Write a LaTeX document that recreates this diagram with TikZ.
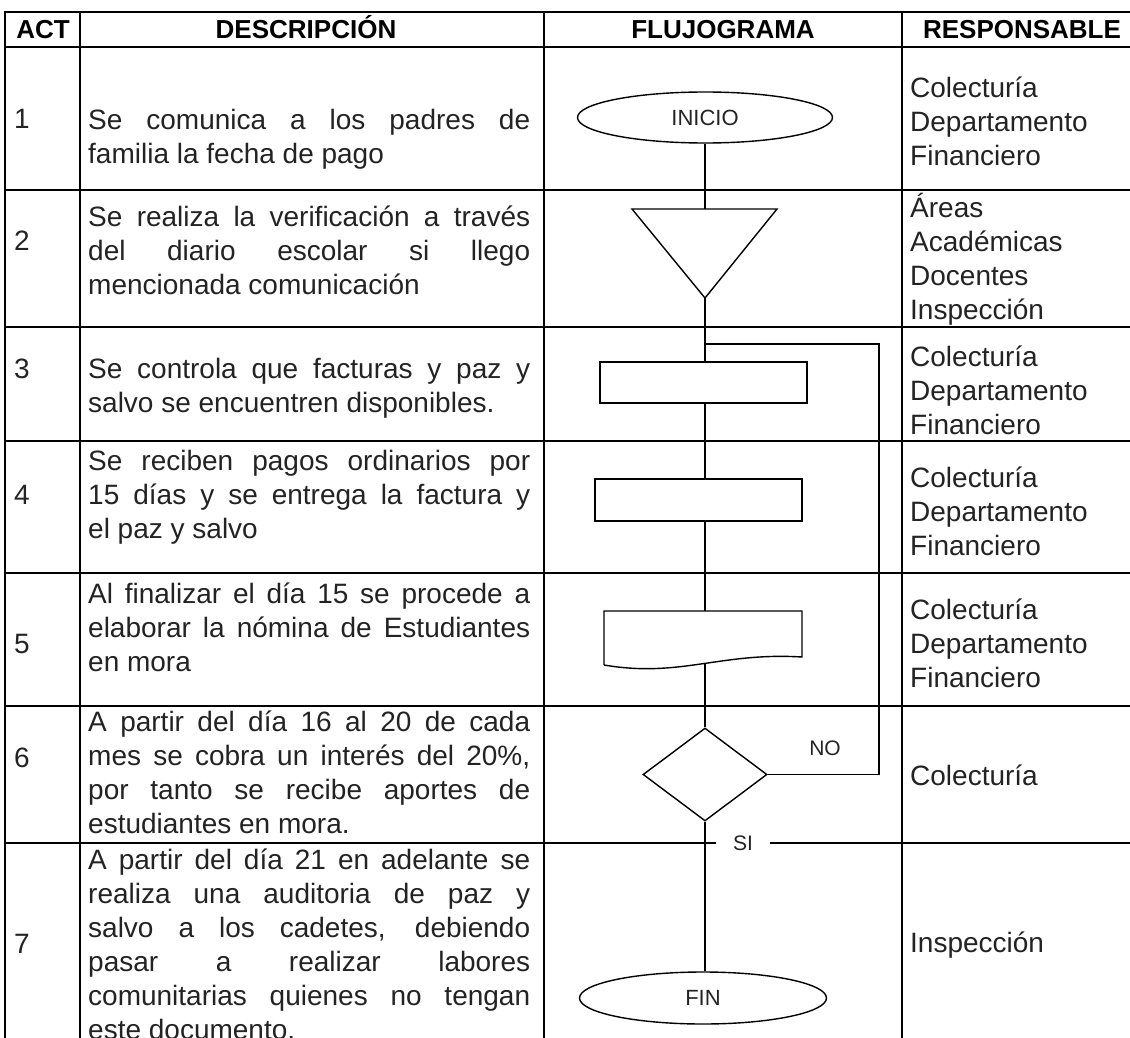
\documentclass[tikz,border=0pt]{standalone}
\usepackage{fontspec}
\setmainfont{Liberation Sans}
\usetikzlibrary{shapes.geometric}
\tolerance=10000 \hbadness=10000 \hyphenpenalty=10000 \exhyphenpenalty=10000
\definecolor{txt}{RGB}{35,35,35}
\newcommand\mystrut{\rule{0pt}{30pt}}
\tikzset{
  tableline/.style={line width=2pt, black, line cap=rect},
  flow/.style={line width=1.4pt, black},
  shapeline/.style={line width=1.4pt, black, line join=miter},
  head/.style={font=\fontsize{26}{30}\selectfont\bfseries, anchor=base, inner sep=0},
  num/.style={font=\fontsize{28}{34}\selectfont, text=txt, anchor=base west, inner sep=0},
  desc/.style={font=\fontsize{28}{34}\selectfont, text=txt, anchor=north west, inner sep=0, text width=442pt, align=justify},
  resp/.style={font=\fontsize{28}{34}\selectfont, text=txt, anchor=north west, inner sep=0, text width=215pt, align=left},
  term/.style={ellipse, draw, line width=1.4pt, minimum width=255pt, minimum height=51pt, inner sep=0, font=\fontsize{22}{26}\selectfont, text=txt},
  proc/.style={rectangle, draw, line width=1.4pt, minimum width=207pt, minimum height=42pt, inner sep=0},
  lbl/.style={font=\fontsize{21}{25}\selectfont, text=txt, inner sep=0},
}
\begin{document}
\begin{tikzpicture}[x=1pt, y=-1pt]
\useasboundingbox (0,0) rectangle (1130,1038);
\fill[white] (0,0) rectangle (1130,1038);
\clip (0,0) rectangle (1130,1038);

% ---------- labels that break lines ----------
\node[lbl, fill=white, minimum width=56pt, minimum height=22pt] (si) at (743,843) {SI};

% ---------- table grid ----------
\foreach \yy in {12,47,190,327,441,573,706}
  \draw[tableline] (5,\yy) -- (1135,\yy);
\draw[tableline] (5,843) -- (si.west);
\draw[tableline] (si.east) -- (1135,843);
\foreach \xx in {5,80,544,902}
  \draw[tableline] (\xx,12) -- (\xx,1045);

% ---------- header ----------
\node[head] (hact)  at (43,39) {ACT};
\node[head] (hdesc) at (306,39) {DESCRIPCIÓN};
\node[head] (hflu)  at (723,39) {FLUJOGRAMA};
\node[head] (hresp) at (1022,39) {RESPONSABLE};

% ---------- activity numbers ----------
\node[num] (n1) at (14,129) {1};
\node[num] (n2) at (14,250) {2};
\node[num] (n3) at (14,378) {3};
\node[num] (n4) at (14,504) {4};
\node[num] (n5) at (14,653) {5};
\node[num] (n6) at (14,767) {6};
\node[num] (n7) at (14,953) {7};

% ---------- descriptions ----------
\node[desc] (d1) at (88,99) {\mystrut Se comunica a los padres de\linebreak familia la fecha de pago};
\node[desc] (d2) at (88,196) {\mystrut Se realiza la verificación a través\linebreak del diario escolar si llego\linebreak mencionada comunicación};
\node[desc] (d3) at (88,348) {\mystrut Se controla que facturas y paz y\linebreak salvo se encuentren disponibles.};
\node[desc] (d4) at (88,440) {\mystrut Se reciben pagos ordinarios por\linebreak 15 días y se entrega la factura y\linebreak el paz y salvo};
\node[desc] (d5) at (88,573) {\mystrut Al finalizar el día 15 se procede a\linebreak elaborar la nómina de Estudiantes\linebreak en mora};
\node[desc] (d6) at (88,701) {\mystrut A partir del día 16 al 20 de cada\linebreak mes se cobra un interés del 20\%,\linebreak por tanto se recibe aportes de\linebreak estudiantes en mora.};
\node[desc] (d7) at (88,839) {\mystrut A partir del día 21 en adelante se\linebreak realiza una auditoria de paz y\linebreak salvo a los cadetes, debiendo\linebreak pasar a realizar labores\linebreak comunitarias quienes no tengan\linebreak este documento.};

% ---------- responsables ----------
\node[resp] (r1t) at (910,67)  {\mystrut Colecturía\\Departamento\\Financiero};
\node[resp] (r2t) at (910,187) {\mystrut Áreas\\Académicas\\Docentes\\Inspección};
\node[resp] (r3t) at (910,336) {\mystrut Colecturía\\Departamento\\Financiero};
\node[resp] (r4t) at (910,457) {\mystrut Colecturía\\Departamento\\Financiero};
\node[resp] (r5t) at (910,589) {\mystrut Colecturía\\Departamento\\Financiero};
\node[resp] (r6t) at (910,755) {\mystrut Colecturía};
\node[resp] (r7t) at (910,922) {\mystrut Inspección};

% ---------- flowchart shapes ----------
\node[term] (inicio) at (705,117.5) {INICIO};

\coordinate (triL) at (632,209);
\coordinate (triR) at (777,209);
\coordinate (triT) at (705,209);
\coordinate (triB) at (705,298);
\draw[shapeline] (triL) -- (triR) -- (triB) -- cycle;

\node[proc, minimum height=41pt] (r3) at (703.5,382.5) {};
\node[proc] (r4) at (698.5,500) {};

\coordinate (r5tl) at (604,611);
\coordinate (r5tr) at (802,611);
\coordinate (r5br) at (802,657);
\coordinate (r5bl) at (604,665);
\coordinate (r5top) at (705,611);
\coordinate (r5bot) at (705,663.6);
\draw[shapeline] (r5bl) -- (r5tl) -- (r5tr) -- (r5br)
  .. controls (720,652) and (680,678) .. (r5bl);

\node[diamond, draw, line width=1.4pt, minimum width=124pt, minimum height=93pt, inner sep=0] (dia) at (705,774.5) {};

\node[term, minimum width=247pt, minimum height=52pt] (fin) at (703,998) {FIN};

\node[lbl] (no) at (825,748) {NO};

% ---------- connectors ----------
\coordinate (loopC) at (879,344);
\draw[flow] (inicio.south) -- (triT);
\draw[flow] (triB) -- (triB |- r3.north);
\draw[flow] (triB |- r3.south) -- (triB |- r4.north);
\draw[flow] (triB |- r4.south) -- (r5top);
\draw[flow] (r5bot) -- (dia.north);
\draw[flow] (dia.south) -- (dia.south |- fin.north);
\draw[flow] (dia.east) -| (loopC) -- (triB |- loopC);
\end{tikzpicture}
\end{document}
